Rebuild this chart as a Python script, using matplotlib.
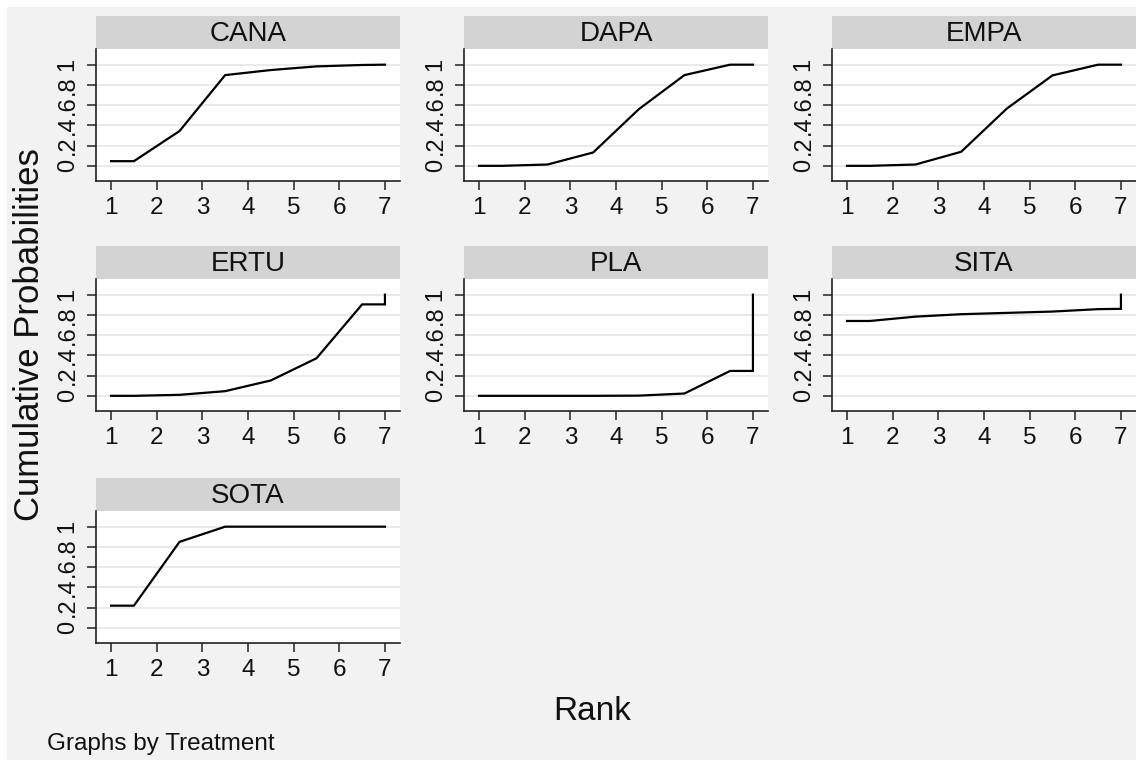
import matplotlib.pyplot as plt
from matplotlib.patches import Rectangle

plt.rcParams['font.family'] = ['Liberation Sans', 'DejaVu Sans']

# cumulative rank probabilities per treatment (x positions used by the sucra-style step plot)
rank_pos = [1, 1.5, 2.5, 3.5, 4.5, 5.5, 6.5, 7, 7]
treatments = ["CANA", "DAPA", "EMPA", "ERTU", "PLA", "SITA", "SOTA"]
cana = [0.046, 0.046, 0.344, 0.897, 0.947, 0.983, 0.997, 1.0, 1.0]
dapa = [0.0, 0.0, 0.013, 0.132, 0.560, 0.897, 1.0, 1.0, 1.0]
empa = [0.0, 0.0, 0.013, 0.139, 0.566, 0.894, 1.0, 1.0, 1.0]
ertu = [0.0, 0.0, 0.010, 0.046, 0.152, 0.371, 0.904, 0.904, 1.0]
pla = [0.0, 0.0, 0.0, 0.0, 0.002, 0.023, 0.246, 0.246, 1.0]
sita = [0.740, 0.740, 0.783, 0.807, 0.820, 0.833, 0.857, 0.860, 1.0]
sota = [0.219, 0.219, 0.850, 1.0, 1.0, 1.0, 1.0, 1.0, 1.0]
series = [cana, dapa, empa, ertu, pla, sita, sota]

yticks = [0, 0.2, 0.4, 0.6, 0.8, 1]
ytick_labels = ["0", ".2", ".4", ".6", ".8", "1"]
xticks = [1, 2, 3, 4, 5, 6, 7]

W, H = 1136, 760
fig = plt.figure(figsize=(W / 100, H / 100), dpi=100, facecolor="white")

# light grey graph region
fig.patches.append(Rectangle((7 / W, 0), 1, 1 - 7 / H, transform=fig.transFigure,
                             facecolor="#f2f2f2", edgecolor="none", zorder=-10))

def box(left, top, width, height):
    return [left / W, 1 - (top + height) / H, width / W, height / H]

col_left = [96, 464, 832]
row_top = [49, 279, 511]
pw, ph, sh = 304, 132, 33

for i, (name, ys) in enumerate(zip(treatments, series)):
    r, c = divmod(i, 3)
    left, top = col_left[c], row_top[r]

    strip = fig.add_axes(box(left, top - sh, pw, sh))
    strip.set_facecolor("#d3d3d3")
    strip.set_xticks([])
    strip.set_yticks([])
    for s in strip.spines.values():
        s.set_visible(False)
    strip.text(0.5, 0.45, name, ha="center", va="center", fontsize=20, color="#111111",
               transform=strip.transAxes)

    ax = fig.add_axes(box(left, top, pw, ph))
    ax.set_facecolor("white")
    ax.plot(rank_pos, ys, color="black", lw=1.6, solid_joinstyle="miter")
    ax.set_xlim(0.67, 7.33)
    ax.set_ylim(-0.15, 1.155)
    ax.set_xticks(xticks)
    ax.set_yticks(yticks)
    ax.set_yticklabels(ytick_labels, rotation=90, va="center")
    ax.grid(axis="y", color="#e6e6e6", lw=1.2)
    ax.set_axisbelow(True)
    ax.spines["top"].set_visible(False)
    ax.spines["right"].set_visible(False)
    for s in ("left", "bottom"):
        ax.spines[s].set_color("#222222")
        ax.spines[s].set_linewidth(1.2)
    ax.tick_params(length=6.5, width=1.1, color="#222222", labelcolor="#111111")
    ax.tick_params(axis="x", labelsize=17.5, pad=5)
    ax.tick_params(axis="y", labelsize=17, pad=6)

fig.text(30 / W, 1 - 335 / H, "Cumulative Probabilities", rotation=90, ha="center",
         va="center", fontsize=25, color="#111111")
fig.text(592 / W, 1 - 712 / H, "Rank", ha="center", va="center", fontsize=24,
         color="#111111")
fig.text(47 / W, 1 - 744 / H, "Graphs by Treatment", ha="left", va="center", fontsize=17.5,
         color="#111111")

fig.savefig("out.png", dpi=100, facecolor=fig.get_facecolor())
